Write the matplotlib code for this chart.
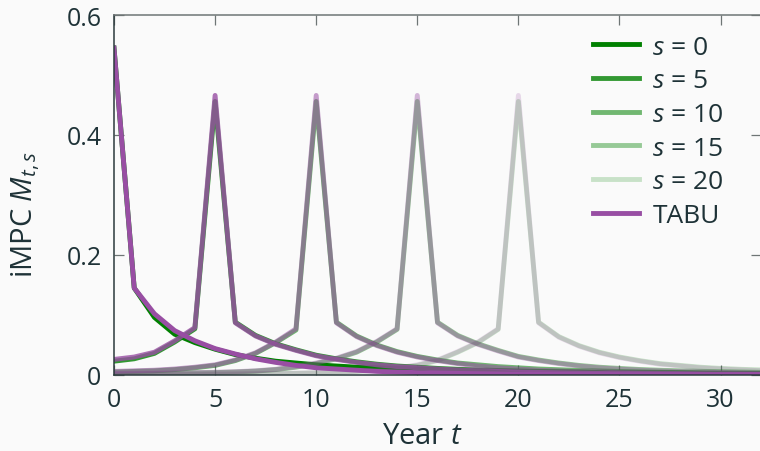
import numpy as np
import matplotlib
matplotlib.use("Agg")
import matplotlib.pyplot as plt

plt.rcParams['font.family'] = ['Open Sans', 'DejaVu Sans']
plt.rcParams['mathtext.fontset'] = 'custom'
plt.rcParams['mathtext.rm'] = 'Open Sans'
plt.rcParams['mathtext.it'] = 'Open Sans:italic'

# years 0..32
years = list(range(33))
horizons = [0, 5, 10, 15, 20]

# iMPC columns M_{t,s}, model (green)
m_s0 = [0.545, 0.145, 0.096, 0.068, 0.054, 0.043, 0.034, 0.028, 0.023, 0.020, 0.017,
        0.015, 0.013, 0.012, 0.011, 0.010, 0.009, 0.008, 0.007, 0.0065, 0.006, 0.0055,
        0.005, 0.0046, 0.0042, 0.0038, 0.0035, 0.0032, 0.003, 0.0028, 0.0026, 0.0024, 0.0022]
m_s5 = [0.023, 0.027, 0.036, 0.055, 0.077, 0.456, 0.088, 0.066, 0.052, 0.042, 0.033,
        0.027, 0.022, 0.018, 0.015, 0.013, 0.011, 0.0095, 0.0085, 0.0075, 0.0068, 0.006,
        0.0055, 0.005, 0.0045, 0.004, 0.0037, 0.0034, 0.0031, 0.0028, 0.0026, 0.0024, 0.0022]
m_s10 = [0.005, 0.006, 0.007, 0.009, 0.012, 0.016, 0.024, 0.036, 0.054, 0.075, 0.456,
         0.088, 0.065, 0.050, 0.039, 0.031, 0.025, 0.020, 0.017, 0.014, 0.012, 0.010,
         0.0088, 0.0077, 0.0068, 0.006, 0.0053, 0.0047, 0.0042, 0.0038, 0.0034, 0.003, 0.0027]
m_s15 = [0.002, 0.0023, 0.0026, 0.003, 0.0035, 0.004, 0.005, 0.0065, 0.009, 0.013, 0.019,
         0.027, 0.038, 0.055, 0.076, 0.456, 0.088, 0.066, 0.052, 0.041, 0.031, 0.025,
         0.020, 0.016, 0.013, 0.011, 0.0092, 0.008, 0.007, 0.0062, 0.0056, 0.005, 0.0045]
m_s20 = [0.0008, 0.0009, 0.001, 0.0011, 0.0012, 0.0014, 0.0016, 0.0019, 0.0023, 0.0028, 0.0035,
         0.0045, 0.006, 0.008, 0.011, 0.016, 0.024, 0.038, 0.054, 0.076, 0.456,
         0.088, 0.064, 0.049, 0.038, 0.030, 0.024, 0.019, 0.016, 0.013, 0.011, 0.0095, 0.0085]

# TABU approximation (purple)
tabu_s0 = [0.545, 0.145, 0.102, 0.074, 0.057, 0.044, 0.035, 0.027, 0.021, 0.016, 0.012,
           0.010, 0.008, 0.006, 0.005, 0.004, 0.0033, 0.0027, 0.0022, 0.0018, 0.0015, 0.0012,
           0.001, 0.0008, 0.0007, 0.0006, 0.0005, 0.0004, 0.0003, 0.0003, 0.0002, 0.0002, 0.0002]
tabu_s5 = [0.026, 0.030, 0.038, 0.057, 0.079, 0.466, 0.087, 0.065, 0.051, 0.041, 0.032,
           0.026, 0.021, 0.017, 0.014, 0.012, 0.010, 0.0085, 0.0072, 0.006, 0.005, 0.0043,
           0.0037, 0.0032, 0.0027, 0.0023, 0.002, 0.0017, 0.0015, 0.0013, 0.0011, 0.001, 0.0009]
tabu_s10 = [0.006, 0.007, 0.008, 0.010, 0.013, 0.017, 0.025, 0.037, 0.055, 0.077, 0.466,
            0.087, 0.064, 0.049, 0.038, 0.030, 0.024, 0.019, 0.015, 0.012, 0.010, 0.008,
            0.0068, 0.0057, 0.0048, 0.004, 0.0034, 0.0029, 0.0025, 0.0021, 0.0018, 0.0016, 0.0014]
tabu_s15 = [0.0025, 0.0028, 0.0031, 0.0035, 0.004, 0.0046, 0.0055, 0.007, 0.0095, 0.014, 0.020,
            0.028, 0.039, 0.056, 0.077, 0.466, 0.087, 0.065, 0.051, 0.040, 0.030, 0.024,
            0.019, 0.015, 0.012, 0.0098, 0.0082, 0.0069, 0.0058, 0.0049, 0.0042, 0.0036, 0.0031]
tabu_s20 = [0.001, 0.0011, 0.0012, 0.0013, 0.0015, 0.0017, 0.0019, 0.0022, 0.0026, 0.0031, 0.0038,
            0.0048, 0.0062, 0.0082, 0.0115, 0.017, 0.025, 0.039, 0.055, 0.077, 0.466,
            0.087, 0.063, 0.048, 0.037, 0.029, 0.023, 0.018, 0.015, 0.012, 0.010, 0.0085, 0.0072]

model_cols = [m_s0, m_s5, m_s10, m_s15, m_s20]
tabu_cols = [tabu_s0, tabu_s5, tabu_s10, tabu_s15, tabu_s20]
alphas = [1.0, 0.8, 0.55, 0.4, 0.2]

txt = '#1e3237'
bg = '#fafafa'
green = '#008000'
purple = '#984ea3'

fig = plt.figure(figsize=(7.6, 4.52), dpi=100, facecolor=bg)
ax = fig.add_axes([114 / 760, 76 / 452, 647 / 760, 360 / 452], facecolor=bg)

lw = 3.5
handles = []
for s, col, a in zip(horizons, model_cols, alphas):
    h, = ax.plot(years, col, color=green, alpha=a, lw=lw, label=f'$s$ = {s}')
    handles.append(h)
for s, col, a in reversed(list(zip(horizons, tabu_cols, alphas))):
    h, = ax.plot(years, col, color=purple, alpha=a, lw=lw, label='TABU')
    if s == 0:
        handles.append(h)

ax.set_xlim(0, 32)
ax.set_ylim(0, 0.6)
ax.set_xticks([0, 5, 10, 15, 20, 25, 30])
ax.set_yticks([0, 0.2, 0.4, 0.6])
ax.set_yticklabels(['0', '0.2', '0.4', '0.6'])
ax.tick_params(direction='in', length=7.5, width=0.9, color='#6e7575',
               top=True, right=True, labelsize=18, labelcolor=txt, pad=9)
for side in ['top', 'right']:
    ax.spines[side].set_color('#6e7575')
for side in ['left', 'bottom']:
    ax.spines[side].set_color('#2b3a3c')
for sp in ax.spines.values():
    sp.set_linewidth(1.1)

ax.set_xlabel('Year $t$', fontsize=21, color=txt)
ax.set_ylabel('iMPC $M_{t,s}$', fontsize=21, color=txt)
ax.xaxis.set_label_coords(0.476, -0.127)
ax.yaxis.set_label_coords(-0.112, 0.45)

leg = ax.legend(handles=handles, loc='upper right', frameon=False, fontsize=19,
                bbox_to_anchor=(734 / 760, 1 - 25 / 452), bbox_transform=fig.transFigure,
                borderaxespad=0, handlelength=1.75, handletextpad=0.5, labelspacing=0.33)
for t in leg.get_texts():
    t.set_color(txt)

fig.savefig('out.png', dpi=100, facecolor=bg)
